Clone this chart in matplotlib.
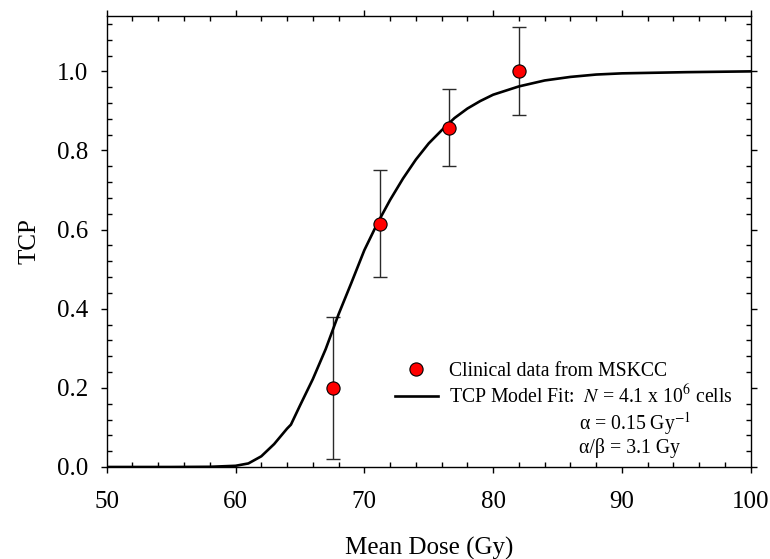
import matplotlib
matplotlib.use("Agg")
import matplotlib.pyplot as plt
from matplotlib.ticker import MultipleLocator, FormatStrFormatter
from matplotlib.lines import Line2D

# clinical data (MSKCC)
dose_pts = [67.6, 71.2, 76.55, 82.0]
tcp_pts = [0.20, 0.615, 0.857, 1.0]
err_lo = [0.02, 0.48, 0.76, 0.89]
err_hi = [0.38, 0.75, 0.955, 1.111]

# TCP model fit curve
dose_fit = [50, 55, 58, 60, 61, 62, 63, 64, 64.3, 65, 66, 67, 68, 69, 70, 71, 72, 73,
            74, 75, 76, 77, 78, 79, 80, 82, 84, 86, 88, 90, 95, 100]
tcp_fit = [0.0, 0.0, 0.0005, 0.003, 0.009, 0.027, 0.058, 0.097, 0.107, 0.155, 0.222,
           0.298, 0.386, 0.466, 0.548, 0.615, 0.675, 0.729, 0.777, 0.818, 0.851, 0.882,
           0.906, 0.925, 0.941, 0.962, 0.977, 0.986, 0.992, 0.995, 0.998, 1.0]

plt.rcParams['font.family'] = ['Liberation Serif', 'DejaVu Serif']
plt.rcParams['mathtext.fontset'] = 'stix'

fig = plt.figure(figsize=(7.7, 5.59), dpi=100)
ax = fig.add_axes([0.1386, 0.1646, 0.8364, 0.8068])

ax.plot(dose_fit, tcp_fit, color='black', lw=1.9, zorder=2)
yerr = [[t - l for t, l in zip(tcp_pts, err_lo)], [h - t for t, h in zip(tcp_pts, err_hi)]]
ax.errorbar(dose_pts, tcp_pts, yerr=yerr, fmt='none', ecolor='#2a2a2a',
            elinewidth=1.0, capsize=5, capthick=1.0, zorder=1)
ax.plot(dose_pts, tcp_pts, 'o', color='red', mec='black', mew=0.8, ms=9.5, zorder=3)

ax.set_xlim(50, 100)
ax.set_ylim(0, 1.14)
ax.xaxis.set_major_locator(MultipleLocator(10))
ax.xaxis.set_minor_locator(MultipleLocator(2))
ax.yaxis.set_major_locator(MultipleLocator(0.2))
ax.yaxis.set_minor_locator(MultipleLocator(0.04))
ax.yaxis.set_major_formatter(FormatStrFormatter('%.1f'))
ax.tick_params(which='major', direction='out', length=4.5, width=1.0,
               top=True, right=True, labelsize=18)
ax.tick_params(which='minor', direction='in', length=3.5, width=1.0,
               top=True, right=True)
ax.tick_params(axis='x', which='major', pad=13)
ax.tick_params(axis='y', which='major', pad=9)
for s in ax.spines.values():
    s.set_linewidth(1.0)

ax.set_xlabel('Mean Dose (Gy)', fontsize=18, labelpad=17)
ax.set_ylabel('TCP', fontsize=18, labelpad=12)

handles = [Line2D([], [], ls='none', marker='o', color='red', mec='black', mew=0.8, ms=9.5),
           Line2D([], [], color='black', lw=1.9)]
labels = ['Clinical data from MSKCC',
          r'TCP Model Fit:  $N$ = 4.1 x 10$^{6}$ cells']
ax.legend(handles, labels, loc='upper left', bbox_to_anchor=(0.435, 0.251),
          frameon=False, fontsize=14.2, handlelength=2.2, handletextpad=0.55,
          labelspacing=0.2, borderaxespad=0)

ax.text(0.733, 0.097, r'α = 0.15 Gy$^{-1}$', transform=ax.transAxes,
        fontsize=14.2, va='center', ha='left')
ax.text(0.733, 0.043, 'α/β = 3.1 Gy', transform=ax.transAxes,
        fontsize=14.2, va='center', ha='left')

fig.savefig('out.png', dpi=100)
